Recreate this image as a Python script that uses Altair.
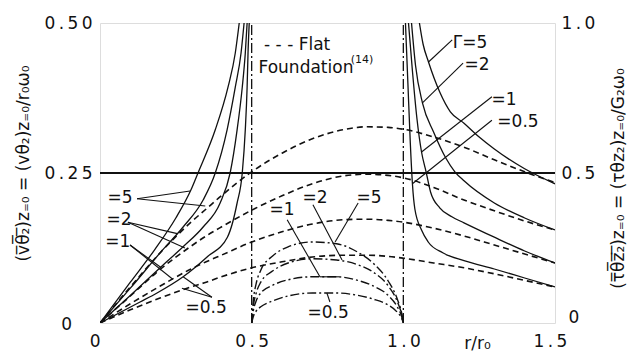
import altair as alt
import pandas as pd

# ---------------- data (all y values in left-axis units, 0..0.5) ----------------
# Solid: velocity under the rigid foundation, 0 <= r/r0 <= 0.5
VEL_G5_X = [0, 0.1, 0.18, 0.25, 0.3, 0.323, 0.38, 0.422, 0.446, 0.459]
VEL_G5_Y = [0, 0.068, 0.122, 0.175, 0.222, 0.25, 0.322, 0.393, 0.45, 0.5]
VEL_G2_X = [0, 0.1, 0.2, 0.274, 0.34, 0.38, 0.419, 0.446, 0.465, 0.475]
VEL_G2_Y = [0, 0.058, 0.118, 0.16, 0.205, 0.25, 0.322, 0.393, 0.45, 0.5]
VEL_G1_X = [0, 0.1, 0.2, 0.274, 0.34, 0.396, 0.429, 0.452, 0.469, 0.479, 0.485]
VEL_G1_Y = [0, 0.046, 0.093, 0.127, 0.16, 0.2, 0.25, 0.322, 0.393, 0.45, 0.5]
VEL_G05_X = [0, 0.132, 0.188, 0.274, 0.353, 0.42, 0.452, 0.469, 0.479, 0.485, 0.488, 0.492]
VEL_G05_Y = [0, 0.035, 0.05, 0.077, 0.11, 0.143, 0.2, 0.25, 0.322, 0.393, 0.45, 0.5]

# Solid: stress outside the foundation, 1.0 <= r/r0 <= 1.5
STR_G5_X = [1.053, 1.065, 1.083, 1.12, 1.155, 1.2, 1.25, 1.3, 1.4, 1.5]
STR_G5_Y = [0.5, 0.465, 0.435, 0.385, 0.352, 0.333, 0.31, 0.29, 0.257, 0.232]
STR_G2_X = [1.027, 1.04, 1.063, 1.1, 1.14, 1.17, 1.2, 1.3, 1.4, 1.5]
STR_G2_Y = [0.5, 0.43, 0.367, 0.318, 0.275, 0.252, 0.237, 0.2, 0.175, 0.155]
STR_G1_X = [1.017, 1.03, 1.045, 1.06, 1.075, 1.09, 1.12, 1.16, 1.2, 1.3, 1.4, 1.5]
STR_G1_Y = [0.5, 0.42, 0.34, 0.285, 0.252, 0.218, 0.192, 0.177, 0.167, 0.143, 0.12, 0.1]
STR_G05_X = [1.007, 1.015, 1.023, 1.03, 1.038, 1.06, 1.082, 1.13, 1.2, 1.3, 1.4, 1.5]
STR_G05_Y = [0.5, 0.4, 0.3, 0.232, 0.19, 0.155, 0.135, 0.117, 0.104, 0.09, 0.075, 0.06]

# Dash-dot: stress under the foundation ring, 0.5 <= r/r0 <= 1.0
DD_X = [0.5, 0.505, 0.515, 0.53, 0.57, 0.62, 0.7, 0.78, 0.85, 0.9, 0.95, 0.98, 0.995, 1.0]
DD_G5_Y = [0, 0.035, 0.066, 0.088, 0.112, 0.127, 0.135, 0.132, 0.118, 0.1, 0.07, 0.04, 0.015, 0]
DD_G2_Y = [0, 0.026, 0.05, 0.068, 0.087, 0.1, 0.107, 0.105, 0.097, 0.085, 0.062, 0.036, 0.013, 0]
DD_G1_Y = [0, 0.019, 0.037, 0.05, 0.063, 0.072, 0.077, 0.077, 0.071, 0.062, 0.046, 0.027, 0.01, 0]
DD_G05_Y = [0, 0.01, 0.02, 0.027, 0.037, 0.045, 0.05, 0.05, 0.046, 0.04, 0.03, 0.018, 0.007, 0]

# Dashed: flat foundation (ref. 14), 0 <= r/r0 <= 1.5
FLAT_X = [0, 0.1, 0.2, 0.3, 0.35, 0.4, 0.5, 0.6, 0.7, 0.8, 0.88, 0.95, 1.0, 1.1, 1.2, 1.3, 1.4, 1.5]
FLAT_G5_Y = [0, 0.06, 0.118, 0.168, 0.19, 0.212, 0.252, 0.283, 0.307, 0.322, 0.327, 0.326, 0.323, 0.31, 0.293, 0.272, 0.252, 0.234]
FLAT_G2_Y = [0, 0.045, 0.09, 0.128, 0.145, 0.16, 0.188, 0.212, 0.232, 0.245, 0.248, 0.246, 0.242, 0.226, 0.205, 0.187, 0.17, 0.155]
FLAT_G1_Y = [0, 0.032, 0.062, 0.09, 0.102, 0.113, 0.135, 0.152, 0.165, 0.172, 0.173, 0.171, 0.168, 0.158, 0.145, 0.13, 0.115, 0.1]
FLAT_G05_Y = [0, 0.022, 0.042, 0.06, 0.068, 0.077, 0.092, 0.102, 0.11, 0.113, 0.113, 0.111, 0.108, 0.1, 0.092, 0.082, 0.071, 0.06]

# reference lines
HLINE_Y = [0.25]
VLINE_X = [0.5, 1.0]

# axes
X_TICKS = [0, 0.5, 1.0, 1.5]
X_LABELS = ["0", "0.5", "1.0", "1.5"]
LEFT_TICKS = [0, 0.25, 0.5]
LEFT_LABELS = ["0", "0.25", "0.50"]
RIGHT_TICKS = [0, 0.5, 1.0]
RIGHT_LABELS = ["0", "0.5", "1.0"]

# annotation labels (text, x, y, font size)
LABEL_TEXT = ["=5", "=2", "=1", "=0.5",
              "=1", "=2", "=5", "=0.5",
              "Γ=5", "=2", "=1", "=0.5",
              "- - -  Flat", "Foundation", "(14)"]
LABEL_X = [0.066, 0.063, 0.059, 0.35,
           0.6, 0.709, 0.887, 0.752,
           1.22, 1.243, 1.332, 1.378,
           0.65, 0.679, 0.864]
LABEL_Y = [0.208, 0.172, 0.135, 0.025,
           0.188, 0.208, 0.208, 0.017,
           0.467, 0.43, 0.372, 0.335,
           0.463, 0.425, 0.438]
LABEL_SIZE = [17, 17, 17, 17,
              17, 17, 17, 17,
              17, 17, 17, 17,
              17, 17, 11]

# leader lines (start x, start y, end x, end y)
LEAD_X1 = [0.122, 0.122, 0.092, 0.092, 0.099, 0.099, 0.369, 0.369,
           0.617, 0.725, 0.702, 0.851, 0.758,
           1.161, 1.197, 1.292, 1.292]
LEAD_Y1 = [0.207, 0.207, 0.168, 0.168, 0.13, 0.13, 0.043, 0.043,
           0.172, 0.077, 0.197, 0.2, 0.035,
           0.472, 0.433, 0.377, 0.338]
LEAD_X2 = [0.297, 0.347, 0.255, 0.28, 0.2, 0.24, 0.274, 0.27,
           0.725, 0.79, 0.798, 0.775, 0.748,
           1.083, 1.063, 1.06, 1.03]
LEAD_Y2 = [0.22, 0.195, 0.149, 0.125, 0.093, 0.073, 0.077, 0.058,
           0.077, 0.077, 0.105, 0.135, 0.05,
           0.435, 0.367, 0.285, 0.232]

# ---------------- tables ----------------
series = [
    ("vel5", "solid", VEL_G5_X, VEL_G5_Y), ("vel2", "solid", VEL_G2_X, VEL_G2_Y),
    ("vel1", "solid", VEL_G1_X, VEL_G1_Y), ("vel05", "solid", VEL_G05_X, VEL_G05_Y),
    ("str5", "solid", STR_G5_X, STR_G5_Y), ("str2", "solid", STR_G2_X, STR_G2_Y),
    ("str1", "solid", STR_G1_X, STR_G1_Y), ("str05", "solid", STR_G05_X, STR_G05_Y),
    ("dd5", "dashdot", DD_X, DD_G5_Y), ("dd2", "dashdot", DD_X, DD_G2_Y),
    ("dd1", "dashdot", DD_X, DD_G1_Y), ("dd05", "dashdot", DD_X, DD_G05_Y),
    ("fl5", "dashed", FLAT_X, FLAT_G5_Y), ("fl2", "dashed", FLAT_X, FLAT_G2_Y),
    ("fl1", "dashed", FLAT_X, FLAT_G1_Y), ("fl05", "dashed", FLAT_X, FLAT_G05_Y),
]
rows = []
for name, style, xs, ys in series:
    for i, (a, b) in enumerate(zip(xs, ys)):
        rows.append({"series": name, "style": style, "i": i, "x": a, "y": b})
curves = pd.DataFrame(rows)

labels = pd.DataFrame({"text": LABEL_TEXT, "x": LABEL_X, "y": LABEL_Y, "fs": LABEL_SIZE})
leaders = pd.DataFrame({"x": LEAD_X1, "y": LEAD_Y1, "x2": LEAD_X2, "y2": LEAD_Y2})
hline = pd.DataFrame({"y": HLINE_Y})
vline = pd.DataFrame({"x": VLINE_X, "y0": [0] * len(VLINE_X), "y1": [0.5] * len(VLINE_X)})
right = pd.DataFrame({"x": [1.5] * len(RIGHT_TICKS), "v": RIGHT_TICKS})
# origin label of the left axis, drawn at the origin
zeros = pd.DataFrame({"x": [X_TICKS[0]], "y": [LEFT_TICKS[0]], "text": [LEFT_LABELS[0]]})

TS = "\u2009"


def label_expr(ticks, labs, skip_zero):
    parts = []
    for t, l in zip(ticks, labs):
        s = "" if (skip_zero and t == 0) else TS.join(l)
        parts.append(f"abs(datum.value - {t}) < 1e-6 ? '{s}'")
    return " : ".join(parts) + " : ''"


def cond(tests, default):
    return {"condition": [{"test": t, "value": val} for t, val in tests], "value": default}


FONT = "DejaVu Sans"
INK = "#111111"
LPAD_X = 10

XS = alt.Scale(domain=[0, 1.5], nice=False, zero=False)
YS = alt.Scale(domain=[0, 0.5], nice=False)

# x-axis "0" kept as an axis label, right-aligned at the origin tick
XAX = alt.Axis(values=X_TICKS, labelExpr=label_expr(X_TICKS, X_LABELS, False),
               labelAlign=cond([("datum.value < 0.01", "right")], "center"),
               labelOffset=cond([("datum.value > 1.4", -5)], 0),
               labelOverlap=False,
               ticks=False, domain=False, grid=False, labelFont=FONT, labelFontSize=17,
               labelColor=INK, labelPadding=LPAD_X, labelFlush=False,
               title="r/r\u2080", titleFont=FONT, titleFontSize=17, titleFontWeight="normal",
               titleColor=INK, titleX=377, titleY=20, titleBaseline="middle", titleAlign="center")
YAX = alt.Axis(values=LEFT_TICKS, labelExpr=label_expr(LEFT_TICKS, LEFT_LABELS, True),
               labelOverlap=False,
               ticks=False, domain=False, grid=False, labelFont=FONT, labelFontSize=17,
               labelColor=INK, labelPadding=8, labelFlush=False,
               title="(v\u0305\u03b8\u0305\u2082\u0305)z\u208c\u2080 = (v\u03b8\u2082)z\u208c\u2080/r\u2080\u03c9\u2080",
               titleFont=FONT, titleFontSize=17, titleFontWeight="normal", titleColor=INK,
               titleAngle=270, titleX=-77, titleY=140, titleAlign="center", titleBaseline="middle")
RAX = alt.Axis(orient="right", values=RIGHT_TICKS,
               labelExpr=label_expr(RIGHT_TICKS, RIGHT_LABELS, False),
               labelPadding=cond([("datum.value < 0.01", 13)], 6),
               labelOffset=cond([("datum.value < 0.01", -6)], 0),
               labelOverlap=False,
               ticks=False, domain=False, grid=False, labelFont=FONT, labelFontSize=17,
               labelColor=INK, labelFlush=False,
               title="(\u03c4\u0305\u03b8\u0305z\u0305\u2082\u0305)z\u208c\u2080 = (\u03c4\u03b8z\u2082)z\u208c\u2080/G\u2082\u03c9\u2080",
               titleFont=FONT, titleFontSize=17, titleFontWeight="normal", titleColor=INK,
               titleAngle=270, titleX=63, titleY=155, titleAlign="center", titleBaseline="middle")

X = alt.X("x:Q", scale=XS, axis=XAX)
Y = alt.Y("y:Q", scale=YS, axis=YAX)

base = alt.Chart(curves).encode(x=X, y=Y, detail="series:N", order="i:Q")
solid = base.transform_filter(alt.datum.style == "solid").mark_line(
    color=INK, strokeWidth=1.3, interpolate="monotone", clip=True)
dashed = base.transform_filter(alt.datum.style == "dashed").mark_line(
    color=INK, strokeWidth=1.6, strokeDash=[6, 4], interpolate="monotone", clip=True)
dashdot = base.transform_filter(alt.datum.style == "dashdot").mark_line(
    color=INK, strokeWidth=1.4, strokeDash=[9, 3, 2, 3], interpolate="monotone", clip=True)

h = alt.Chart(hline).mark_rule(color=INK, strokeWidth=2).encode(y=Y)
v = alt.Chart(vline).mark_rule(color=INK, strokeWidth=1.3, strokeDash=[10, 3, 2, 3]).encode(
    x=X, y=alt.Y("y0:Q", scale=YS, axis=YAX), y2="y1:Q")
lead = alt.Chart(leaders).mark_rule(color=INK, strokeWidth=1.1).encode(
    x=X, y=Y, x2="x2:Q", y2="y2:Q")
txt = alt.Chart(labels).mark_text(font=FONT, color=INK, align="center", baseline="middle").encode(
    x=X, y=Y, text="text:N", size=alt.Size("fs:Q", scale=None))
zy = alt.Chart(zeros).mark_text(
    font=FONT, color=INK, fontSize=17, align="right", baseline="middle", dx=-28, dy=2).encode(
    x=X, y=Y, text="text:N")

inner = alt.layer(h, v, dashed, dashdot, solid, lead, txt, zy)

rlayer = alt.Chart(right).mark_point(opacity=0).encode(
    x=X, y=alt.Y("v:Q", scale=alt.Scale(domain=[0, 1], nice=False), axis=RAX))

chart = alt.layer(inner, rlayer).resolve_scale(y="independent").properties(
    width=455, height=300,
    autosize=alt.AutoSizeParams(type="none"),
    padding={"left": 92, "top": 15, "right": 72, "bottom": 29},
).configure_view(stroke=INK, strokeWidth=2).configure(background="white")

chart.save("out.html", embed_options={"renderer": "svg", "actions": False})
